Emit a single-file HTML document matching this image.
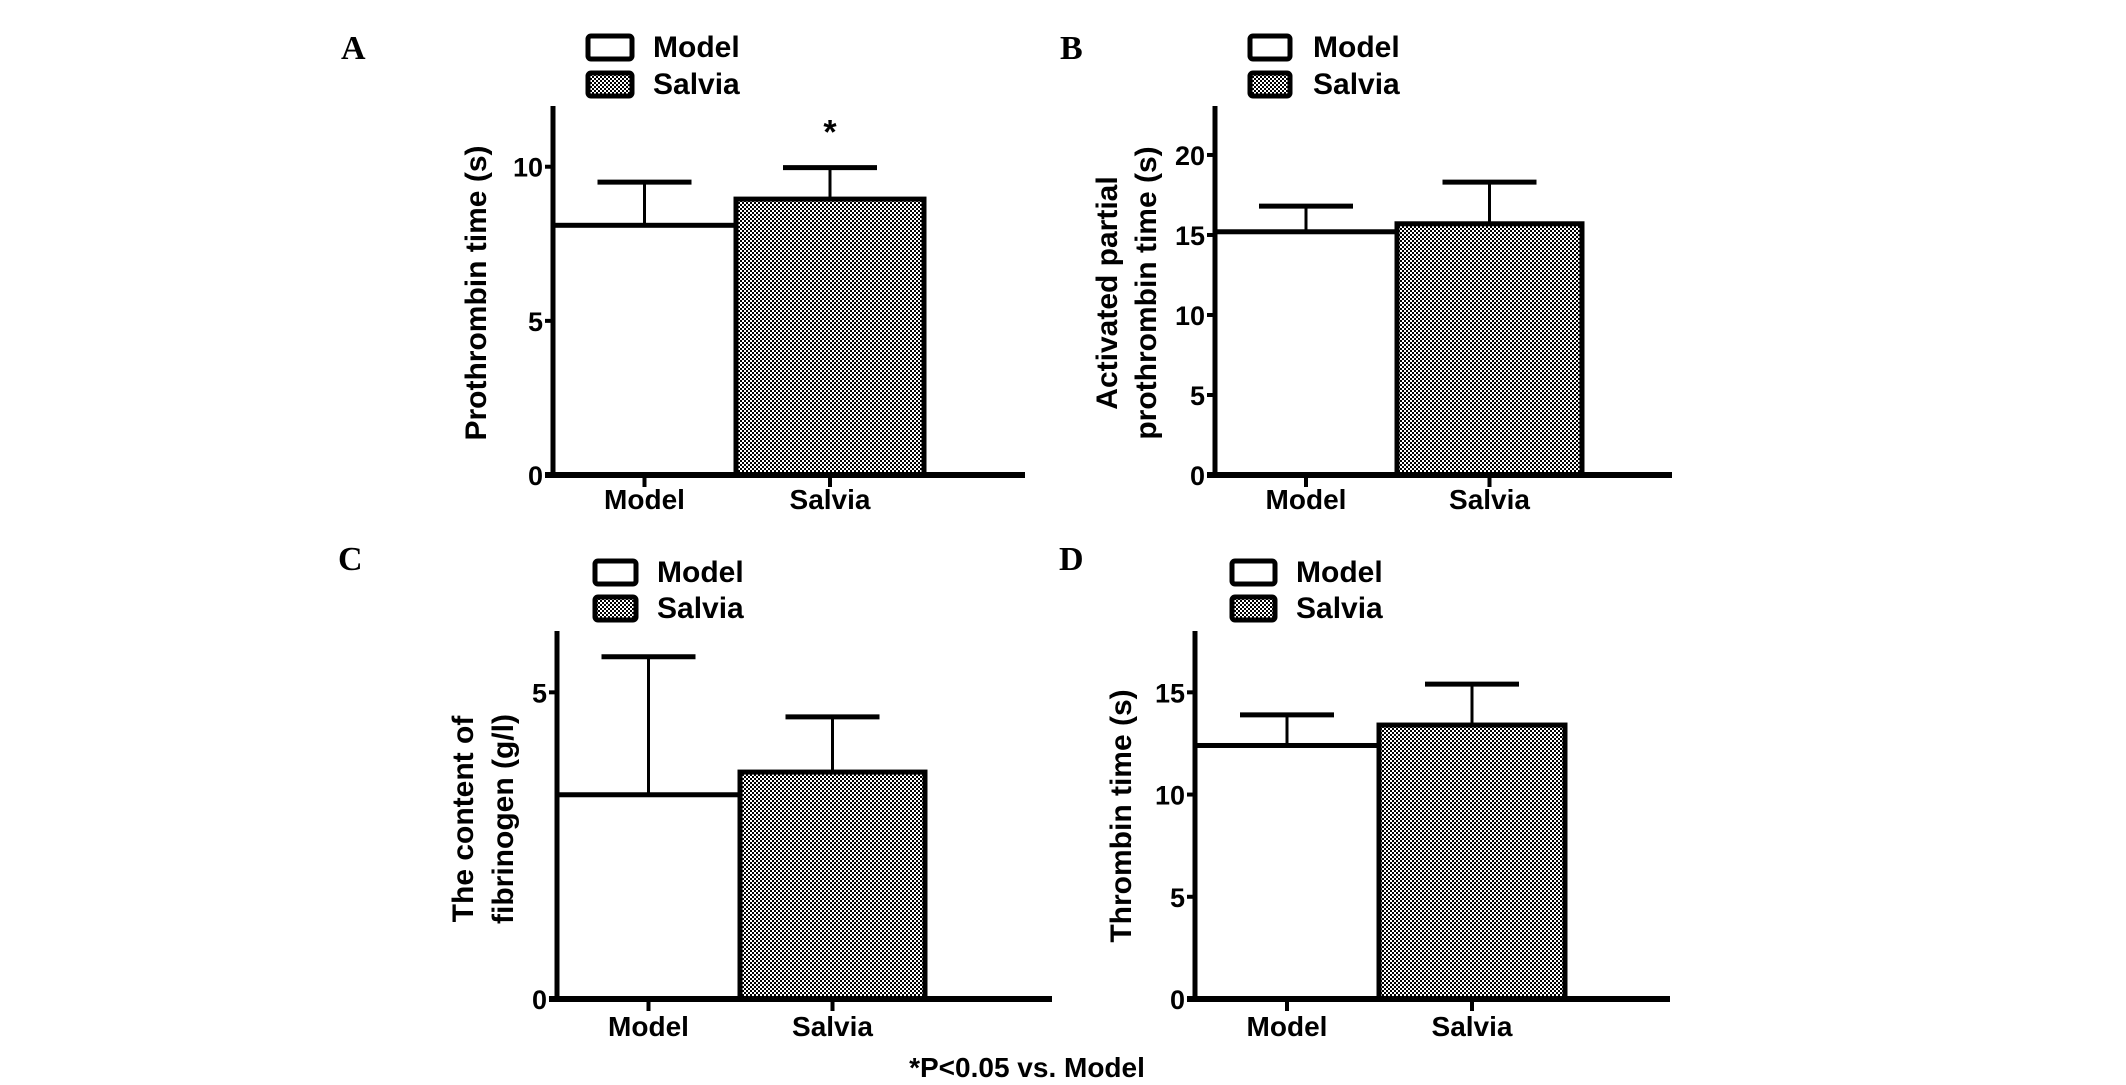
<!DOCTYPE html>
<html><head><meta charset="utf-8"><style>
body{margin:0;background:#fff;}
svg{display:block;font-family:"Liberation Sans",Arial,sans-serif;}
</style></head><body>
<svg id="fig" width="2126" height="1085" viewBox="0 0 2126 1085">
<defs>
<pattern id="chk" width="4" height="4" patternUnits="userSpaceOnUse">
<rect width="4" height="4" fill="#fff"/><rect width="2" height="2" fill="#000"/><rect x="2" y="2" width="2" height="2" fill="#000"/>
</pattern>
</defs>
</svg>
<script>
const categories = ["Model", "Salvia"];
const panelLetters = ["A", "B", "C", "D"];
const meansA = [8.1, 8.95];
const errsA = [9.5, 9.97];
const meansB = [15.2, 15.7];
const errsB = [16.8, 18.3];
const meansC = [3.33, 3.7];
const errsC = [5.58, 4.6];
const meansD = [12.4, 13.4];
const errsD = [13.9, 15.4];
const ticksA = [0, 5, 10];
const ticksB = [0, 5, 10, 15, 20];
const ticksC = [0, 5];
const ticksD = [0, 5, 10, 15];
const yMaxes = [11.97, 23.06, 6.0, 18.0];
const significant = [false, true];

const NS = "http://www.w3.org/2000/svg";
const svg = document.getElementById("fig");
function mk(tag, attrs, parent){
  const e = document.createElementNS(NS, tag);
  for (const k in attrs) e.setAttribute(k, attrs[k]);
  (parent||svg).appendChild(e);
  return e;
}
const layouts = [
  {ax:553, right:1025, base:475, top:106, bw:[183,188], letter:[341,59], leg:[588,632,36,73,653], title:["Prothrombin time (s)"], tx:[476], ty:293, xl:507},
  {ax:1215, right:1672, base:475, top:106, bw:[182,185], letter:[1060,59], leg:[1250,1290,36,73,1313], title:["Activated partial","prothrombin time (s)"], tx:[1107,1146], ty:293, xl:507},
  {ax:557, right:1052, base:999, top:631, bw:[183,185], letter:[338,570], leg:[595,636,561,597,657], title:["The content of","fibrinogen (g/l)"], tx:[463,503], ty:819, xl:1034},
  {ax:1195, right:1670, base:999, top:631, bw:[184,186], letter:[1059,570], leg:[1232,1275,561,597,1296], title:["Thrombin time (s)"], tx:[1121], ty:816, xl:1034}
];
const allMeans = [meansA, meansB, meansC, meansD];
const allErrs = [errsA, errsB, errsC, errsD];
const allTicks = [ticksA, ticksB, ticksC, ticksD];

layouts.forEach((L, p) => {
  const g = mk("g", {});
  
  
  const y = v => L.base - (v / yMaxes[p]) * (L.base - L.top);
  const lt = mk("text", {x:L.letter[0], y:L.letter[1], "font-family":"Liberation Serif,serif", "font-weight":"bold", "font-size":"34"}, g);
  lt.textContent = panelLetters[p];
  
  
  categories.forEach((c, i) => {
    const by = L.leg[2 + i];
    const r = mk("rect", {x:L.leg[0], y:by, width:L.leg[1]-L.leg[0], height:23, rx:3, fill:i?"url(#chk)":"#fff", stroke:"#000", "stroke-width":5}, g);
    
    
    const t = mk("text", {x:L.leg[4], y:by+21, "font-size":"30", "font-weight":"bold"}, g);
    t.textContent = c;
    
    
  });
  let x0 = L.ax;
  categories.forEach((c, i) => {
    const w = L.bw[i];
    const m = allMeans[p][i], e = allErrs[p][i];
    const cx = x0 + w/2;
    const el = mk("line", {x1:cx, x2:cx, y1:y(m), y2:y(e), stroke:"#000", "stroke-width":3}, g);
    
    
    const cap = mk("line", {x1:cx-47, x2:cx+47, y1:y(e), y2:y(e), stroke:"#000", "stroke-width":5}, g);
    
    
    const r = mk("rect", {x:x0, y:y(m), width:w, height:L.base - y(m), fill:i?"url(#chk)":"#fff", stroke:"#000", "stroke-width":5}, g);
    
    
    if (p === 0 && significant[i]) {
      const s = mk("text", {x:cx, y:y(e)-24, "text-anchor":"middle", "font-size":"34", "font-weight":"bold"}, g);
      s.textContent = "*";
      
      
    }
    const tk = mk("line", {x1:cx, x2:cx, y1:L.base, y2:L.base+12, stroke:"#000", "stroke-width":4}, g);
    
    
    const xl = mk("text", {x:cx, y:L.xl+2, "text-anchor":"middle", "font-size":"28", "font-weight":"bold"}, g);
    xl.textContent = c;
    
    
    x0 += w;
  });
  const ya = mk("line", {x1:L.ax, x2:L.ax, y1:L.top, y2:L.base+2, stroke:"#000", "stroke-width":5}, g);
  
  
  const xa = mk("line", {x1:L.ax-8, x2:L.right, y1:L.base, y2:L.base, stroke:"#000", "stroke-width":6}, g);
  
  
  allTicks[p].forEach(v => {
    const t = mk("line", {x1:L.ax-8, x2:L.ax, y1:y(v), y2:y(v), stroke:"#000", "stroke-width":4}, g);
    
    
    const tl = mk("text", {x:L.ax-10, y:y(v)+10, "text-anchor":"end", "font-size":"27", "font-weight":"bold"}, g);
    tl.textContent = v;
    
    
  });
  L.title.forEach((line, k) => {
    const tx = L.tx[k] + 10;
    const t = mk("text", {x:tx, y:L.ty, "text-anchor":"middle", "font-size":"30", "font-weight":"bold", transform:`rotate(-90 ${tx} ${L.ty})`}, g);
    t.textContent = line;
    
    
  });
});
const fn = mk("text", {x:1027, y:1077, "text-anchor":"middle", "font-size":"28", "font-weight":"bold"});
fn.textContent = "*P<0.05 vs. Model";


</script>
</body></html>
